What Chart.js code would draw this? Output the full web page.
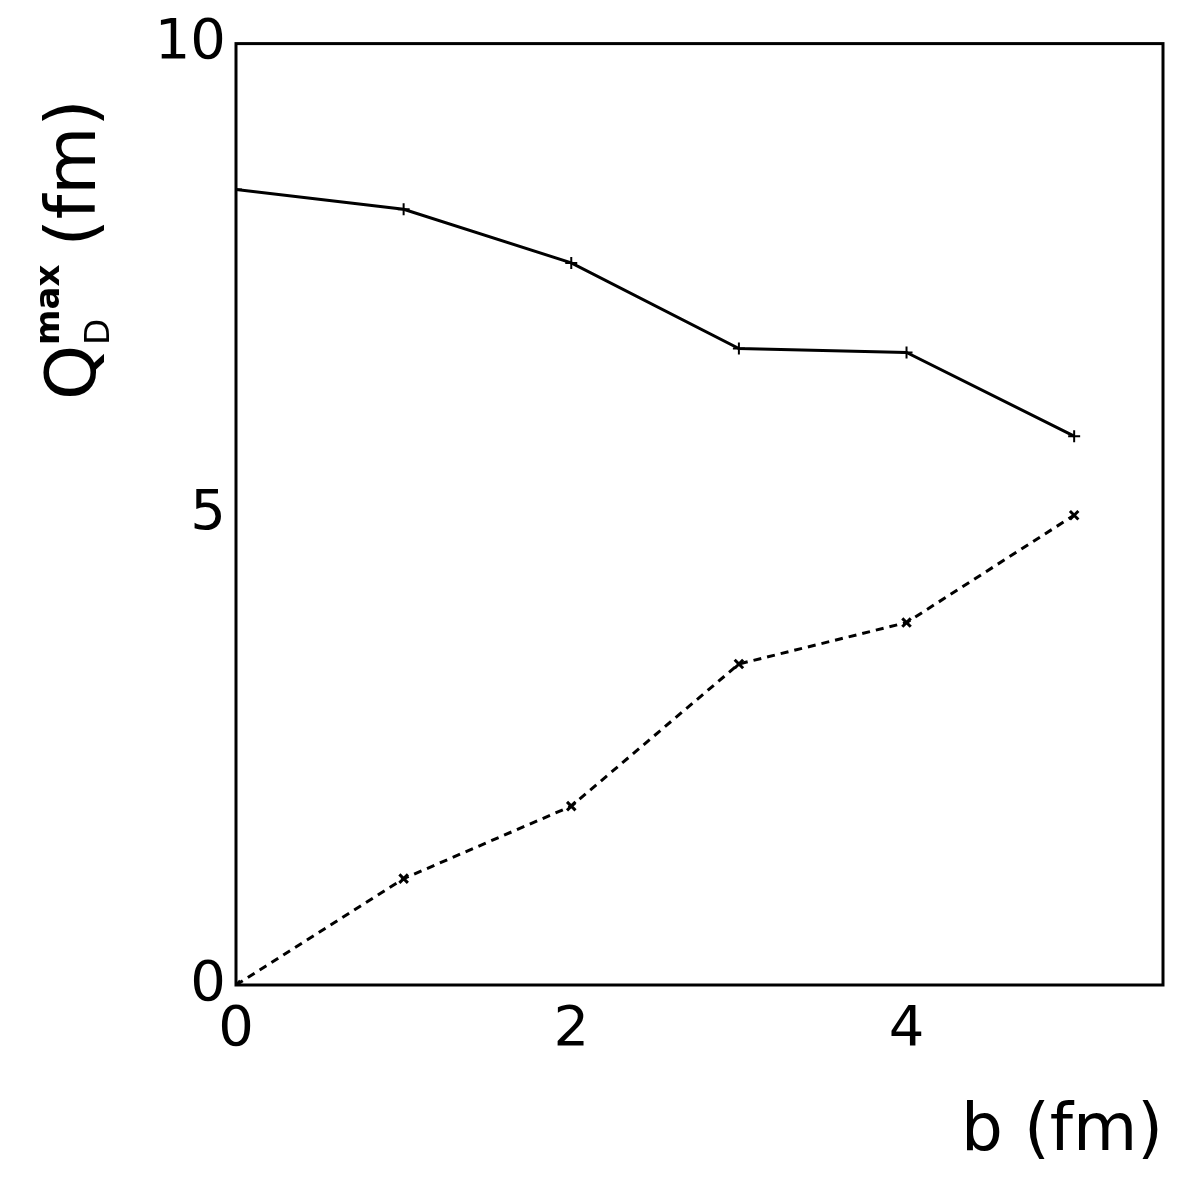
<!DOCTYPE html>
<html><head><meta charset="utf-8">
<script src="https://cdn.jsdelivr.net/npm/chart.js@4"></script>
<style>body{margin:0;background:#fff}#wrap{width:1181px;height:1181px}</style>
</head><body><div id="wrap"><canvas id="c"></canvas></div>
<script>
const bValues = [0, 1, 2, 3, 4, 5];
const solidSeries = [8.45, 8.24, 7.67, 6.76, 6.72, 5.83];
const dashedSeries = [0, 1.13, 1.90, 3.41, 3.85, 4.99];
const xTickLabels = ['0', '2', '4'];
const yTickLabels = ['0', '5', '10'];

const FONT = '"DejaVu Sans", sans-serif';

const frame = {
  id: 'frame',
  afterDraw(chart) {
    const { ctx, chartArea: a } = chart;
    ctx.save();
    ctx.strokeStyle = '#000';
    ctx.lineWidth = 3;
    ctx.strokeRect(a.left, a.top, a.right - a.left, a.bottom - a.top);
    // x axis title
    ctx.fillStyle = '#000';
    ctx.font = '66px ' + FONT;
    ctx.textAlign = 'right';
    ctx.textBaseline = 'alphabetic';
    ctx.fillText('b (fm)', 1163, 1150);
    // y axis title
    ctx.translate(95, 400);
    ctx.rotate(-Math.PI / 2);
    ctx.textAlign = 'left';
    ctx.font = '70px ' + FONT;
    ctx.fillText('Q', 0, 0);
    let w = ctx.measureText('Q').width;
    ctx.font = '34px ' + FONT;
    ctx.fillText('D', w, 14);
    ctx.font = 'bold 34px ' + FONT;
    ctx.fillText('max', w, -36);
    const mw = ctx.measureText('max').width;
    ctx.font = '70px ' + FONT;
    ctx.fillText('(fm)', w + mw + 18, 0);
    ctx.restore();
  }
};

new Chart(document.getElementById('c'), {
  type: 'line',
  data: {
    datasets: [
      { data: bValues.map((b, i) => ({ x: b, y: solidSeries[i] })), borderColor: '#000', borderWidth: 3,
        pointStyle: 'cross', pointRadius: 6, pointBorderColor: '#000', pointBorderWidth: 2, tension: 0 },
      { data: bValues.map((b, i) => ({ x: b, y: dashedSeries[i] })), borderColor: '#000', borderWidth: 3,
        borderDash: [8, 6], pointStyle: 'crossRot', pointRadius: 6, pointBorderColor: '#000', pointBorderWidth: 3, tension: 0 }
    ]
  },
  options: {
    responsive: true, maintainAspectRatio: false, animation: false,
    layout: { padding: { top: 2, right: 18, left: 0, bottom: 0 } },
    plugins: { legend: { display: false }, tooltip: { enabled: false } },
    scales: {
      x: {
        type: 'linear', min: 0, max: 5.53,
        afterBuildTicks(s) { s.ticks = xTickLabels.map(v => ({ value: +v })); },
        afterFit(s) { s.height = 196; },
        grid: { drawOnChartArea: false, drawTicks: false },
        border: { display: false },
        ticks: { color: '#000', font: { size: 56, family: FONT }, padding: 12, maxRotation: 0 }
      },
      y: {
        min: 0, max: 10,
        afterBuildTicks(s) { s.ticks = yTickLabels.map(v => ({ value: +v })); },
        afterFit(s) { s.width = 236; },
        grid: { drawOnChartArea: false, drawTicks: false },
        border: { display: false },
        ticks: { color: '#000', font: { size: 56, family: FONT }, padding: 10 }
      }
    }
  },
  plugins: [frame]
});
</script></body></html>
